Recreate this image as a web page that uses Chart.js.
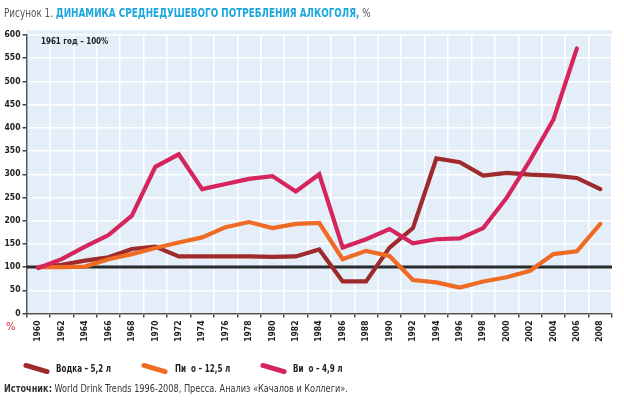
<!DOCTYPE html>
<html><head><meta charset="utf-8">
<script src="https://cdn.jsdelivr.net/npm/chart.js@4/dist/chart.umd.min.js"></script>
<style>
html,body{margin:0;padding:0;background:#fff;}
#wrap{position:relative;width:624px;height:402px;overflow:hidden;font-family:'Liberation Sans Narrow','DejaVu Sans Condensed','Liberation Sans',Arial,sans-serif;}
canvas{position:absolute;left:0;top:0;}
.t{position:absolute;white-space:nowrap;line-height:1;transform-origin:0 50%;}
.ic{position:absolute;width:27px;height:5px;border-radius:3px;transform:rotate(16deg);}
</style></head><body>
<div id="wrap">
<canvas id="c" width="624" height="402"></canvas>
<div class="t" style="left:4px;top:7px;font-size:12px;color:#555;transform:scaleX(0.82)">Рисунок 1. <b style="color:#1ba7dd">ДИНАМИКА СРЕДНЕДУШЕВОГО ПОТРЕБЛЕНИЯ АЛКОГОЛЯ,</b> %</div>
<div class="t" style="left:41px;top:37px;font-size:9px;font-weight:bold;color:#222;transform:scaleX(0.88)">1961 год – 100%</div>
<div class="t" style="left:6px;top:321px;font-size:11px;color:#d9262d">%</div>
<div class="ic" style="left:23px;top:366px;background:#9e2a2b"></div>
<div class="t" style="left:56px;top:364px;font-size:10px;font-weight:bold;color:#222;transform:scaleX(0.8)">Водка – 5,2 л</div>
<div class="ic" style="left:141px;top:366px;background:#ef6a23"></div>
<div class="t" style="left:175px;top:364px;font-size:10px;font-weight:bold;color:#222;transform:scaleX(0.8)">Пи&nbsp;&nbsp;о – 12,5 л</div>
<div class="ic" style="left:260px;top:366px;background:#d6245c"></div>
<div class="t" style="left:293px;top:364px;font-size:10px;font-weight:bold;color:#222;transform:scaleX(0.8)">Ви&nbsp;&nbsp;о – 4,9 л</div>
<div class="t" style="left:4px;top:384px;font-size:10px;color:#333;transform:scaleX(0.91)"><b>Источник:</b> World Drink Trends 1996-2008, Пресса. Анализ «Качалов и Коллеги».</div>
</div>
<script>
const years = ['1960','1962','1964','1966','1968','1970','1972','1974','1976','1978','1980','1982','1984','1986','1988','1990','1992','1994','1996','1998','2000','2002','2004','2006','2008'];
const vodka = [100,105,114,121,139,144,123,123,123,123,122,123,138,69,69,142,184,334,326,297,303,299,297,292,268];
const beer  = [100,100,101,117,128,141,153,164,186,197,184,193,195,117,135,124,72,67,56,69,78,92,128,134,193];
const wine  = [98,117,144,169,211,316,343,268,279,290,296,263,300,142,160,182,151,160,162,184,249,330,418,571,null];
const yTicks = [0,50,100,150,200,250,300,350,400,450,500,550,600];
const baseLine = 100;

const FONT = "'Liberation Sans Narrow','DejaVu Sans Condensed','Liberation Sans',Arial,sans-serif";

const bgPlugin = {
  id:'bg',
  beforeDraw(chart){
    const {ctx, chartArea:a} = chart;
    ctx.save();
    ctx.fillStyle = '#e3eef8';
    ctx.fillRect(a.left, a.top-5, a.right-a.left, a.bottom-a.top+5);
    ctx.restore();
  },
  beforeDatasetsDraw(chart){
    const {ctx, chartArea:a, scales} = chart;
    const y = scales.y.getPixelForValue(baseLine);
    ctx.save();
    ctx.strokeStyle = '#2b2b2b';
    ctx.lineWidth = 3;
    ctx.beginPath();
    ctx.moveTo(a.left, y); ctx.lineTo(a.right, y);
    ctx.stroke();
    ctx.restore();
  }
};

new Chart(document.getElementById('c'), {
  type:'line',
  data:{
    labels: years,
    datasets:[
      {label:'Водка – 5,2 л', data:vodka, borderColor:'#9e2a2b', order:2},
      {label:'Пиво – 12,5 л', data:beer, borderColor:'#ef6a23', order:1},
      {label:'Вино – 4,9 л', data:wine, borderColor:'#d6245c', order:0}
    ]
  },
  options:{
    responsive:false, animation:false, devicePixelRatio:1,
    layout:{padding:{top:35,right:12,left:0,bottom:0}},
    elements:{
      line:{borderWidth:4.2, tension:0, fill:false, borderCapStyle:'round', borderJoinStyle:'miter'},
      point:{radius:0, hoverRadius:0}
    },
    plugins:{legend:{display:false}, tooltip:{enabled:false}},
    scales:{
      x:{
        type:'category', offset:true,
        grid:{offset:true, color:'#ffffff', lineWidth:1.5, tickColor:'#444', tickLength:4, drawTicks:true},
        border:{color:'#555', width:1.5},
        ticks:{minRotation:90, maxRotation:90, autoSkip:false, padding:3, color:'#222', font:{family:FONT, size:8.5, weight:'bold'}},
        afterFit(s){ s.height = 88.5; }
      },
      y:{
        min:0, max:600,
        afterBuildTicks(s){ s.ticks = yTicks.map(v=>({value:v})); },
        grid:{color:'#ffffff', lineWidth:1.5, tickColor:'#444', tickLength:4},
        border:{color:'#555', width:1.5},
        ticks:{padding:2, color:'#222', font:{family:FONT, size:8.5, weight:'bold'}},
        afterFit(s){ s.width = 26.5; }
      }
    }
  },
  plugins:[bgPlugin]
});
</script>
</body></html>
